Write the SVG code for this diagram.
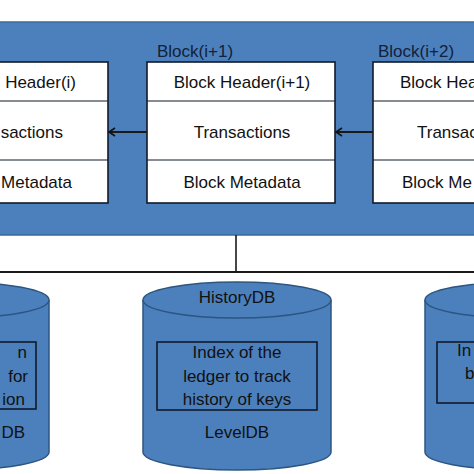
<svg xmlns="http://www.w3.org/2000/svg" width="474" height="474" viewBox="0 0 474 474">
<style>
text{font-family:"Liberation Sans",Arial,sans-serif;font-size:17px;fill:#111}
.box{fill:#fff;stroke:#111a2a;stroke-width:1.6}
.div{stroke:#111a2a;stroke-width:1.2}
.cyl{fill:#4c80bc;stroke:#2c5580;stroke-width:1.5}
.in{fill:none;stroke:#111a2a;stroke-width:1.6}
.lbl{fill:#13213a}
.c{text-anchor:middle}
.e{text-anchor:end}
.conn{stroke:#1a1a1a;fill:none}
</style>
<defs>
<marker id="ah" markerWidth="10" markerHeight="10" refX="7" refY="5" orient="auto" markerUnits="userSpaceOnUse">
<path d="M1,1 L7,5 L1,9" fill="none" stroke="#111" stroke-width="1.6"/>
</marker>
</defs>
<rect width="474" height="474" fill="#fff"/>
<g id="panel">
<rect x="-2" y="22" width="478" height="213" fill="#4c80bc" stroke="#3a6a9c" stroke-width="1.5"/>
</g>
<g id="block-i">
<rect class="box" x="-80" y="62" width="188" height="141"/>
<line class="div" x1="-80" y1="101" x2="108" y2="101"/>
<line class="div" x1="-80" y1="160" x2="108" y2="160"/>
<text class="e" x="76" y="88">Header(i)</text>
<text class="e" x="63" y="138">sactions</text>
<text class="e" x="72" y="188">Metadata</text>
</g>
<g id="block-i1">
<text class="lbl" x="157" y="57">Block(i+1)</text>
<rect class="box" x="147" y="62" width="188" height="141"/>
<line class="div" x1="147" y1="101" x2="335" y2="101"/>
<line class="div" x1="147" y1="160" x2="335" y2="160"/>
<text class="c" x="242" y="88">Block Header(i+1)</text>
<text class="c" x="242" y="138">Transactions</text>
<text class="c" x="242" y="188">Block Metadata</text>
</g>
<g id="block-i2">
<text class="lbl" x="378" y="57">Block(i+2)</text>
<rect class="box" x="373" y="62" width="188" height="141"/>
<line class="div" x1="373" y1="101" x2="561" y2="101"/>
<line class="div" x1="373" y1="160" x2="561" y2="160"/>
<text x="400" y="88">Block Hea</text>
<text x="417" y="138">Transac</text>
<text x="402" y="188">Block Me</text>
</g>
<g id="db-left">
<path class="cyl" d="M-139,300 L-139,452 A94,18 0 0 0 49,452 L49,300 A94,18 0 0 0 -139,300 Z"/>
<path class="cyl" d="M-139,300 A94,18 0 0 0 49,300" fill="none"/>
<rect class="in" x="-125" y="342" width="161" height="67"/>
<text class="e" x="27" y="358">n</text>
<text class="e" x="28" y="382">for</text>
<text class="e" x="25" y="405">ion</text>
<text class="e" x="25" y="438">DB</text>
</g>
<g id="db-history">
<path class="cyl" d="M143,300 L143,452 A94,18 0 0 0 331,452 L331,300 A94,18 0 0 0 143,300 Z"/>
<path class="cyl" d="M143,300 A94,18 0 0 0 331,300" fill="none"/>
<text class="c" x="237" y="303">HistoryDB</text>
<rect class="in" x="157" y="342" width="160" height="68"/>
<text class="c" x="237" y="358">Index of the</text>
<text class="c" x="237" y="382">ledger to track</text>
<text class="c" x="237" y="405">history of keys</text>
<text class="c" x="237" y="438">LevelDB</text>
</g>
<g id="db-right">
<path class="cyl" d="M425,300 L425,452 A94,18 0 0 0 613,452 L613,300 A94,18 0 0 0 425,300 Z"/>
<path class="cyl" d="M425,300 A94,18 0 0 0 613,300" fill="none"/>
<rect class="in" x="437" y="342" width="160" height="61"/>
<text x="457" y="356">In</text>
<text x="465" y="379">b</text>
</g>
<g id="connectors">
<line class="conn" x1="147" y1="132" x2="109" y2="132" stroke-width="1.8" marker-end="url(#ah)"/>
<line class="conn" x1="373" y1="132" x2="336" y2="132" stroke-width="1.8" marker-end="url(#ah)"/>
<line class="conn" x1="236" y1="235" x2="236" y2="272" stroke-width="1.6"/>
<line class="conn" x1="0" y1="272" x2="474" y2="272" stroke-width="2.2"/>
</g>
</svg>
